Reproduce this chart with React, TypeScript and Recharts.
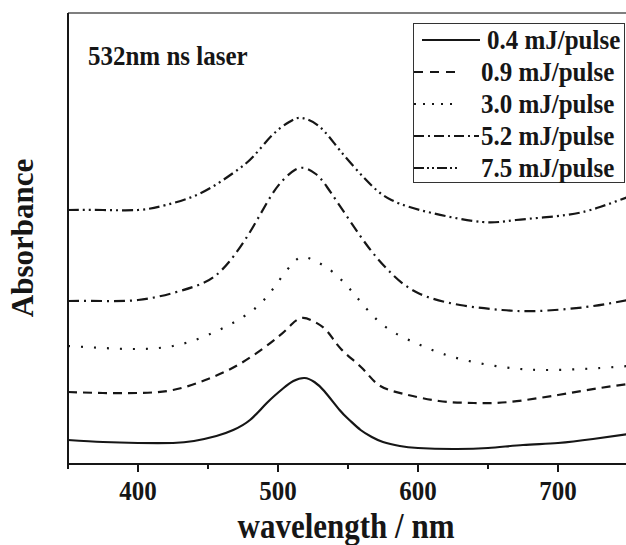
import React from "react";
import {
  LineChart, Line, XAxis, YAxis, Legend, ReferenceLine,
} from "recharts";

// absorbance spectra (arbitrary units, offset per series)
const SERIES_NAMES = ["0.4 mJ/pulse", "0.9 mJ/pulse", "3.0 mJ/pulse", "5.2 mJ/pulse", "7.5 mJ/pulse"];

const WL_04 = [350, 375, 400, 425, 440, 456, 468, 480, 492, 504, 511, 519, 526, 533, 544, 551, 559, 567, 575, 587, 600, 625, 650, 675, 700, 725, 750];
const ABS_04 = [0.24, 0.22, 0.21, 0.21, 0.23, 0.28, 0.34, 0.44, 0.61, 0.76, 0.83, 0.86, 0.82, 0.73, 0.54, 0.44, 0.34, 0.27, 0.22, 0.18, 0.16, 0.15, 0.16, 0.19, 0.21, 0.25, 0.30];

const WL_09 = [350, 375, 400, 425, 450, 475, 500, 510, 517, 525, 535, 545, 560, 572, 590, 615, 640, 665, 700, 730, 750];
const ABS_09 = [0.72, 0.71, 0.71, 0.74, 0.85, 1.02, 1.27, 1.40, 1.46, 1.43, 1.33, 1.15, 0.96, 0.79, 0.70, 0.63, 0.61, 0.62, 0.69, 0.76, 0.80];

const WL_30 = [350, 375, 400, 425, 450, 475, 490, 500, 510, 518, 528, 540, 555, 575, 600, 625, 660, 695, 730, 750];
const ABS_30 = [1.18, 1.16, 1.15, 1.18, 1.29, 1.47, 1.64, 1.82, 2.00, 2.07, 2.02, 1.91, 1.69, 1.39, 1.20, 1.07, 0.97, 0.94, 0.96, 0.98];

const WL_52 = [350, 375, 400, 425, 445, 455, 465, 480, 495, 505, 512, 519, 527, 535, 550, 565, 580, 600, 630, 660, 685, 720, 750];
const ABS_52 = [1.63, 1.63, 1.64, 1.71, 1.80, 1.88, 2.02, 2.32, 2.68, 2.86, 2.94, 2.96, 2.90, 2.77, 2.46, 2.16, 1.92, 1.71, 1.59, 1.54, 1.53, 1.57, 1.64];

const WL_75 = [350, 375, 400, 420, 445, 468, 482, 496, 508, 517, 530, 544, 563, 581, 610, 646, 670, 706, 730, 750];
const ABS_75 = [2.54, 2.54, 2.54, 2.59, 2.71, 2.91, 3.07, 3.29, 3.42, 3.46, 3.37, 3.14, 2.84, 2.64, 2.51, 2.42, 2.44, 2.49, 2.57, 2.67];

const X_TICKS = [350, 400, 450, 500, 550, 600, 650, 700, 750];
const X_LABELS = [400, 500, 600, 700];

const zip = (wl: number[], a: number[]) => wl.map((w, i) => ({ wl: w, abs: a[i] }));
const SERIES = [zip(WL_04, ABS_04), zip(WL_09, ABS_09), zip(WL_30, ABS_30), zip(WL_52, ABS_52), zip(WL_75, ABS_75)];

const DASHES = [undefined, "9 6", "2 11", "11 5 2 5", "11 4 2 4 2 4"];
const LEGEND_DASHES = [undefined, "9 7", "2 7", "10 4 2 4", "10 3 2 3 2 3"];
const INK = "#161616";
const FONT = "'Liberation Serif', 'Times New Roman', serif";
// the source figure is a little stretched vertically
const STRETCH = 1.13;

function TallText({ x, y, size, anchor, children }: any) {
  return (
    <text transform={`translate(${x} ${y}) scale(1 ${STRETCH})`} textAnchor={anchor || "start"}
      fontFamily={FONT} fontWeight="bold" fontSize={size} fill={INK}>
      {children}
    </text>
  );
}

function WaveTick({ x, y, payload }: any) {
  const major = X_LABELS.includes(payload.value);
  return (
    <g>
      <line x1={x} x2={x} y1={y} y2={y + (major ? 8 : 5)} stroke={INK} strokeWidth={2} />
      {major && <TallText x={x} y={y + 36} size={25} anchor="middle">{payload.value}</TallText>}
    </g>
  );
}

function LegendBox({ payload }: any) {
  const items = (payload || []).slice().sort(
    (a: any, b: any) => SERIES_NAMES.indexOf(a.value) - SERIES_NAMES.indexOf(b.value),
  );
  return (
    <div style={{ width: 212, height: 160, border: "1.5px solid #333", boxSizing: "border-box", background: "#fff" }}>
      <svg width={210} height={158} style={{ display: "block", overflow: "visible" }}>
        {items.map((it: any, i: number) => {
          const idx = SERIES_NAMES.indexOf(it.value);
          const base = 25 + i * 32;
          const x1 = idx === 0 ? 8 : 0;
          const x2 = idx === 0 ? 66 : idx === 3 ? 65 : 44;
          const tx = idx === 0 ? 73 : 67;
          return (
            <g key={it.value}>
              <line x1={x1} x2={x2} y1={base - 9} y2={base - 9} stroke={INK} strokeWidth={2.2}
                strokeDasharray={LEGEND_DASHES[idx]} />
              <TallText x={tx} y={base} size={25}>{it.value}</TallText>
            </g>
          );
        })}
      </svg>
    </div>
  );
}

export default function App() {
  return (
    <div style={{ position: "absolute", left: 0, top: 0, width: 626, height: 545, overflow: "hidden", background: "#fff" }}>
      <LineChart width={640} height={545} margin={{ top: 13, right: 12, bottom: 21, left: 0 }}>
        <XAxis
          type="number"
          dataKey="wl"
          domain={[350, 750]}
          ticks={X_TICKS}
          interval={0}
          allowDataOverflow
          height={60}
          tickSize={0}
          tickMargin={0}
          tickLine={false}
          tick={<WaveTick />}
          axisLine={{ stroke: INK, strokeWidth: 2 }}
          label={{
            content: () => <TallText x={346} y={538} size={31} anchor="middle">wavelength / nm</TallText>,
          }}
        />
        <YAxis
          type="number"
          domain={[0, 4.51]}
          allowDataOverflow
          width={68}
          tick={false}
          tickLine={false}
          axisLine={{ stroke: INK, strokeWidth: 2 }}
          label={{
            content: () => (
              <text x={33} y={238} transform="rotate(-90 33 238)" textAnchor="middle" fontFamily={FONT}
                fontWeight="bold" fontSize={31} fill={INK}>
                Absorbance
              </text>
            ),
          }}
        />
        <ReferenceLine y={4.51} stroke="#555" strokeWidth={1.5} />
        {SERIES.map((d, i) => (
          <Line
            key={SERIES_NAMES[i]}
            data={d}
            dataKey="abs"
            name={SERIES_NAMES[i]}
            type="natural"
            stroke={INK}
            strokeWidth={2.2}
            strokeDasharray={DASHES[i]}
            dot={false}
            isAnimationActive={false}
          />
        ))}
        <Legend
          layout="horizontal"
          verticalAlign="middle"
          align="center"
          wrapperStyle={{ left: 413, top: 23, width: 212, height: 160 }}
          content={<LegendBox />}
        />
      </LineChart>
      <svg width={626} height={80} style={{ position: "absolute", left: 0, top: 0, pointerEvents: "none" }}>
        <TallText x={88} y={65} size={25}>532nm ns laser</TallText>
      </svg>
    </div>
  );
}
